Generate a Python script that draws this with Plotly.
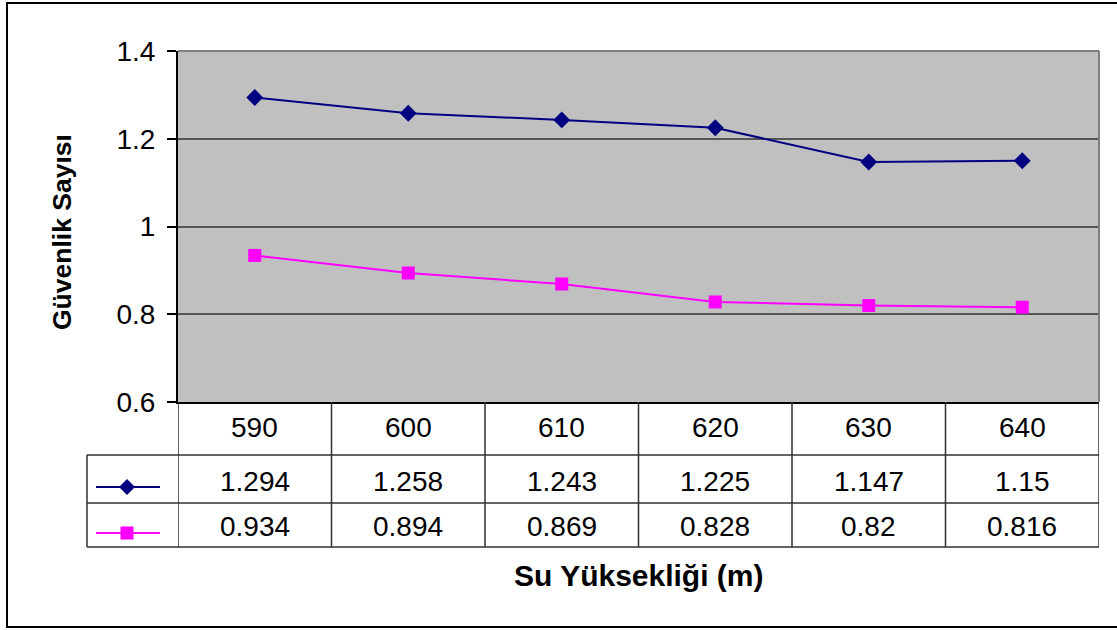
import plotly.graph_objects as go

# Water height (m) and safety factor for the two cases
heights = [590, 600, 610, 620, 630, 640]
series_a = [1.294, 1.258, 1.243, 1.225, 1.147, 1.15]
series_b = [0.934, 0.894, 0.869, 0.828, 0.82, 0.816]
y_ticks = [0.6, 0.8, 1.0, 1.2, 1.4]
y_tick_text = ["0.6", "0.8", "1", "1.2", "1.4"]

NAVY = "#000080"
MAGENTA = "#FF00FF"
FONT = "Liberation Sans, Arial, sans-serif"

W, H = 1117, 630
L, R, T, B = 178, 1099, 51, 402
PW, PH = R - L, B - T


def fx(px):
    return (px - L) / PW


def fy(py):
    return (B - py) / PH


cats = [str(h) for h in heights]

fig = go.Figure()
fig.add_trace(go.Scatter(
    x=cats, y=series_a, mode="lines+markers",
    line=dict(color=NAVY, width=2),
    marker=dict(symbol="diamond", size=13, color=NAVY),
    showlegend=False, hoverinfo="skip"))
fig.add_trace(go.Scatter(
    x=cats, y=series_b, mode="lines+markers",
    line=dict(color=MAGENTA, width=2),
    marker=dict(symbol="square", size=13, color=MAGENTA),
    showlegend=False, hoverinfo="skip"))

shapes = []
line_col = "#303030"

# outer chart frame
shapes.append(dict(type="rect", xref="paper", yref="paper",
                   x0=fx(7), x1=fx(1130), y0=fy(627), y1=fy(3),
                   line=dict(color="black", width=2)))
# plot area top / right border
shapes.append(dict(type="line", xref="paper", yref="paper",
                   x0=0, x1=1, y0=1, y1=1,
                   line=dict(color="#808080", width=2)))
shapes.append(dict(type="line", xref="paper", yref="paper",
                   x0=1, x1=1, y0=0, y1=1,
                   line=dict(color="#808080", width=2)))

# data table grid
row_lines = [455, 503, 547]
for py in row_lines:
    shapes.append(dict(type="line", xref="paper", yref="paper",
                       x0=fx(87), x1=1, y0=fy(py), y1=fy(py),
                       line=dict(color=line_col, width=1.5)))
for k in range(len(cats) + 1):
    shapes.append(dict(type="line", xref="x", yref="paper",
                       x0=k - 0.5, x1=k - 0.5, y0=0, y1=fy(547),
                       line=dict(color=line_col, width=1.5)))
shapes.append(dict(type="line", xref="paper", yref="paper",
                   x0=fx(87), x1=fx(87), y0=fy(455), y1=fy(547),
                   line=dict(color=line_col, width=1.5)))

# legend keys inside the table
key_rows = [(487, NAVY, "diamond"), (533, MAGENTA, "square")]
for py, col, sym in key_rows:
    shapes.append(dict(type="line", xref="paper", yref="paper",
                       x0=fx(96), x1=fx(160), y0=fy(py), y1=fy(py),
                       line=dict(color=col, width=2)))
    cx = 127
    if sym == "diamond":
        d = 8
        path = (f"M {fx(cx - d)} {fy(py)} L {fx(cx)} {fy(py - d)} "
                f"L {fx(cx + d)} {fy(py)} L {fx(cx)} {fy(py + d)} Z")
        shapes.append(dict(type="path", xref="paper", yref="paper",
                           path=path, fillcolor=col, line=dict(color=col, width=0)))
    else:
        d = 6.5
        shapes.append(dict(type="rect", xref="paper", yref="paper",
                           x0=fx(cx - d), x1=fx(cx + d),
                           y0=fy(py + d), y1=fy(py - d),
                           fillcolor=col, line=dict(color=col, width=0)))

annotations = []
tfont = dict(family=FONT, size=28, color="black")
# table cells are placed by category index on the x axis
for i, c in enumerate(cats):
    annotations.append(dict(x=i, y=fy(428), xref="x", yref="paper",
                            text=c, showarrow=False, font=tfont,
                            xanchor="center", yanchor="middle"))
for i, v in enumerate(series_a):
    annotations.append(dict(x=i, y=fy(481), xref="x", yref="paper",
                            text=f"{v:g}", showarrow=False, font=tfont,
                            xanchor="center", yanchor="middle"))
for i, v in enumerate(series_b):
    annotations.append(dict(x=i, y=fy(526), xref="x", yref="paper",
                            text=f"{v:g}", showarrow=False, font=tfont,
                            xanchor="center", yanchor="middle"))

# axis titles
annotations.append(dict(x=fx(639), y=fy(575), xref="paper", yref="paper",
                        text="<b>Su Yüksekliği (m)</b>", showarrow=False,
                        font=dict(family=FONT, size=30, color="black"),
                        xanchor="center", yanchor="middle"))
annotations.append(dict(x=fx(62), y=fy(232), xref="paper", yref="paper",
                        text="<b>Güvenlik Sayısı</b>", showarrow=False,
                        textangle=-90,
                        font=dict(family=FONT, size=26.5, color="black"),
                        xanchor="center", yanchor="middle"))

fig.update_layout(
    width=W, height=H,
    margin=dict(l=L, r=W - R, t=T, b=H - B, pad=0),
    paper_bgcolor="white",
    plot_bgcolor="#C0C0C0",
    font=dict(family=FONT, color="black"),
    shapes=shapes,
    annotations=annotations,
    xaxis=dict(
        type="category", categoryorder="array", categoryarray=cats,
        range=[-0.5, len(cats) - 0.5],
        showticklabels=False, ticks="", showgrid=False, zeroline=False,
        showline=True, linecolor="black", linewidth=2,
        fixedrange=True,
    ),
    yaxis=dict(
        range=[0.6, 1.4], tickvals=y_ticks, ticktext=y_tick_text,
        ticks="outside", ticklen=9, tickcolor="black", tickwidth=1.5,
        tickfont=dict(family=FONT, size=28, color="black"),
        ticklabelstandoff=6,
        showgrid=True, gridcolor="#555555", gridwidth=2,
        zeroline=False,
        showline=True, linecolor="black", linewidth=2,
        fixedrange=True,
    ),
)

fig.write_html("out.html")
